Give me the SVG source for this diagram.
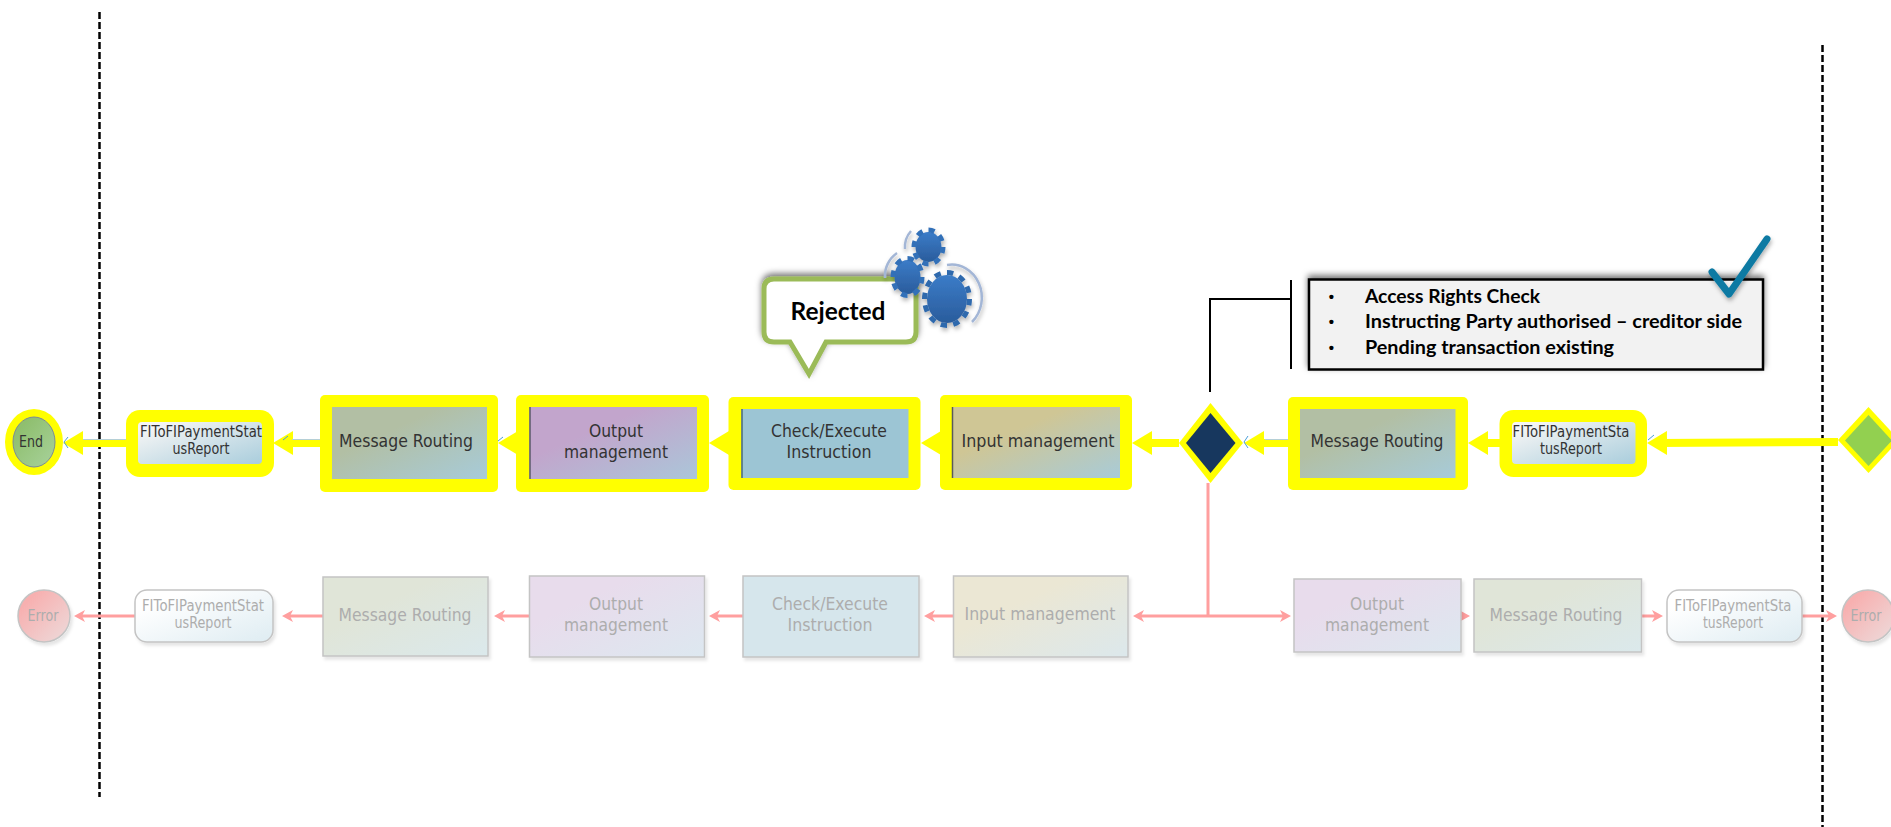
<svg xmlns="http://www.w3.org/2000/svg" width="1891" height="827" viewBox="0 0 1891 827">
<style>
text{font-family:"DejaVu Sans","Liberation Sans",sans-serif;text-anchor:middle;fill:#333;font-size:18px}
.pale{fill:#adadad}
.fi{font-size:15.5px}
.sm{font-size:15px}
.hl{fill:#ffff00}
.pb{stroke:#c4c4c4;stroke-width:1.5;filter:url(#soft)}
.y{stroke:#ffff00;stroke-width:8;fill:none;marker-end:url(#ya)}
.p{stroke:#ff9f9f;stroke-width:3;fill:none}
.pa{marker-end:url(#pa)}
.dash{stroke:#000;stroke-width:2.5;stroke-dasharray:7 3;fill:none}
.tick{stroke:#4a9fd8;stroke-width:1;fill:none}
.under{stroke:#b5cfd6;stroke-width:1;fill:none}
.b{font-family:"Lato","Liberation Sans",sans-serif;font-weight:700;fill:#000;text-anchor:start;font-size:19px}
.bu{font-family:"Liberation Sans",sans-serif;font-weight:700;fill:#000;font-size:15px}
.arc{stroke:#a3b6d6;stroke-width:2.500;fill:none}
</style>
<defs>
<marker id="ya" markerUnits="userSpaceOnUse" markerWidth="20" markerHeight="24" refX="10" refY="12" orient="auto"><path d="M0 0L20 12L0 24Z" fill="#ffff00"/></marker>
<marker id="pa" markerUnits="userSpaceOnUse" markerWidth="12" markerHeight="14" refX="6" refY="7" orient="auto"><path d="M0 1L11 7L0 13L3 7Z" fill="#ff9f9f"/></marker>
<filter id="soft" x="-10%" y="-10%" width="125%" height="125%"><feDropShadow dx="2" dy="3" stdDeviation="1.500" flood-color="#000" flood-opacity=".1"/></filter>
<filter id="up" x="-10%" y="-20%" width="120%" height="140%"><feDropShadow dx="0" dy="-3" stdDeviation="3" flood-color="#000" flood-opacity=".55"/></filter>
<filter id="gs" x="-20%" y="-20%" width="150%" height="150%"><feDropShadow dx="1" dy="3" stdDeviation="2" flood-color="#000" flood-opacity=".3"/></filter>
<linearGradient id="mr" x1="0" y1="0" x2="1" y2="1"><stop offset=".35" stop-color="#b2bfa4"/><stop offset="1" stop-color="#a7cbd9"/></linearGradient>
<linearGradient id="out" x1="0" y1="0" x2="1" y2="1"><stop offset=".35" stop-color="#c2a5cc"/><stop offset="1" stop-color="#abc6d9"/></linearGradient>
<linearGradient id="inp" x1="0" y1="0" x2="1" y2="1"><stop offset=".35" stop-color="#cfc695"/><stop offset="1" stop-color="#a8cbd8"/></linearGradient>
<linearGradient id="fi" x1="0" y1="0" x2="1" y2="1"><stop offset=".1" stop-color="#f5f5f5"/><stop offset="1" stop-color="#a9cddc"/></linearGradient>
<linearGradient id="end" x1="0" y1="0" x2="1" y2="1"><stop offset=".2" stop-color="#8fbf6f"/><stop offset="1" stop-color="#a8d29c"/></linearGradient>
<linearGradient id="pmr" x1="0" y1="0" x2="1" y2="1"><stop offset=".35" stop-color="#e0e5d8"/><stop offset="1" stop-color="#dbe9ec"/></linearGradient>
<linearGradient id="pout" x1="0" y1="0" x2="1" y2="1"><stop offset=".3" stop-color="#e8dcec"/><stop offset="1" stop-color="#dde8f0"/></linearGradient>
<linearGradient id="pinp" x1="0" y1="0" x2="1" y2="1"><stop offset=".35" stop-color="#ebe7d4"/><stop offset="1" stop-color="#dce8ec"/></linearGradient>
<linearGradient id="pfi" x1="0" y1="0" x2="1" y2="1"><stop offset=".2" stop-color="#ffffff"/><stop offset="1" stop-color="#deecf2"/></linearGradient>
<linearGradient id="err" x1="0" y1="0" x2="1" y2="1"><stop offset=".2" stop-color="#f7b0b0"/><stop offset="1" stop-color="#eddcdc"/></linearGradient>
<linearGradient id="gear" x1="0" y1="0" x2="0" y2="1"><stop offset="0" stop-color="#3b7cc8"/><stop offset="1" stop-color="#2a5c9c"/></linearGradient>
</defs>

<g id="swimlanes">
<line class="dash" x1="99.500" y1="12" x2="99.500" y2="797"/>
<line class="dash" x1="1822.500" y1="45" x2="1822.500" y2="827"/>
</g>

<g id="connectors">
<path class="p" d="M1208 483V616"/>
<path class="p pa" d="M1208 616H1138"/>
<path class="p pa" d="M1208 616H1286"/>
<path class="p pa" d="M954 616H929"/>
<path class="p pa" d="M743 616H714"/>
<path class="p pa" d="M529 616H499"/>
<path class="p pa" d="M323 616H287"/>
<path class="p pa" d="M135 616H79"/>
<path class="p pa" d="M1461 616H1465"/>
<path class="p pa" d="M1642 616H1658"/>
<path class="p pa" d="M1802 616H1832"/>
<path d="M1210 392V299H1291M1291 280V369" stroke="#000" stroke-width="2" fill="none"/>
<path class="y" d="M1838 442L1657 443"/>
<path class="y" d="M1500 443H1478"/>
<path class="y" d="M1288 443H1254"/>
<path class="y" d="M1179 443H1142"/>
<path class="y" d="M940 443H931"/>
<path class="y" d="M729 443H719"/>
<path class="y" d="M516 443H508"/>
<path class="y" d="M320 443H283"/>
<path class="y" d="M126 443H73"/>
<path class="under" d="M292 439.500H320M83 439.500H126M1265 439.500H1288"/>
<path class="tick" d="M68 437L64 442L68 448"/>
<path class="tick" d="M288 436L283 440"/>
<path class="tick" d="M503 437L498 441"/>
<path class="tick" d="M1248 436L1244 442L1248 448"/>
<path class="tick" d="M1654 435L1648 440"/>
</g>

<g id="end"><ellipse class="hl" cx="34" cy="442" rx="29" ry="33"/><ellipse cx="34" cy="442" rx="21" ry="25" fill="url(#end)" stroke="#7a8a98" stroke-width="1"/><text class="sm" x="31" y="447" textLength="24" lengthAdjust="spacingAndGlyphs">End</text></g>
<g id="fi-top-left"><rect class="hl" x="126" y="410" width="148" height="67" rx="14"/><rect x="138" y="422" width="124" height="42" rx="4" fill="url(#fi)"/><text class="fi" x="201" y="437" textLength="122" lengthAdjust="spacingAndGlyphs">FIToFIPaymentStat</text><text class="fi" x="201" y="454" textLength="57" lengthAdjust="spacingAndGlyphs">usReport</text></g>
<g id="routing-top-left"><rect class="hl" x="320" y="395" width="178" height="97" rx="5"/><rect x="332" y="407" width="155" height="72" fill="url(#mr)"/><text x="406" y="447" textLength="134" lengthAdjust="spacingAndGlyphs">Message Routing</text></g>
<g id="output-top"><rect class="hl" x="516" y="395" width="193" height="97" rx="5"/><rect x="529.500" y="407" width="167.500" height="72" fill="url(#out)"/><path d="M530 407V479" stroke="#5a5a6a" stroke-width="1.500"/><text x="616" y="437" textLength="54" lengthAdjust="spacingAndGlyphs">Output</text><text x="616" y="458" textLength="104" lengthAdjust="spacingAndGlyphs">management</text></g>
<g id="check-top"><rect class="hl" x="728.500" y="397" width="192" height="93" rx="5"/><rect x="741.500" y="409" width="167" height="69" fill="#9cc5d4"/><path d="M742 409V478" stroke="#4a6a78" stroke-width="1.500"/><text x="829" y="437" textLength="116" lengthAdjust="spacingAndGlyphs">Check/Execute</text><text x="829" y="458" textLength="85" lengthAdjust="spacingAndGlyphs">Instruction</text></g>
<g id="input-top"><rect class="hl" x="940" y="395" width="192" height="95" rx="5"/><rect x="952" y="407" width="168" height="71" fill="url(#inp)"/><path d="M952.500 407V478" stroke="#5a5a5a" stroke-width="1.500"/><text x="1038" y="447" textLength="153" lengthAdjust="spacingAndGlyphs">Input management</text></g>
<g id="gateway-navy"><path class="hl" d="M1210.500 403L1243 443L1210.500 483L1179 443Z"/><path d="M1210.500 413L1235.500 443L1210.500 473L1186 443Z" fill="#17375e"/></g>
<g id="routing-top-right"><rect class="hl" x="1288" y="397" width="180" height="93" rx="5"/><rect x="1300" y="409" width="155.500" height="69" fill="url(#mr)"/><text x="1377" y="447" textLength="133" lengthAdjust="spacingAndGlyphs">Message Routing</text></g>
<g id="fi-top-right"><rect class="hl" x="1499.500" y="410" width="147.500" height="67" rx="14"/><rect x="1512" y="422" width="123.500" height="42" rx="4" fill="url(#fi)"/><text class="fi" x="1571" y="437" textLength="117" lengthAdjust="spacingAndGlyphs">FIToFIPaymentSta</text><text class="fi" x="1571" y="454" textLength="62" lengthAdjust="spacingAndGlyphs">tusReport</text></g>
<g id="gateway-green"><path class="hl" d="M1868.500 407L1899 440L1868.500 473L1838 440Z"/><path d="M1868.500 415L1892 440.500L1868.500 466L1845 440.500Z" fill="#92d050"/></g>

<g id="error-left"><circle cx="44" cy="616" r="26" fill="url(#err)" class="pb"/><text class="pale sm" x="43" y="621" textLength="31" lengthAdjust="spacingAndGlyphs">Error</text></g>
<g id="fi-bottom-left"><rect x="135" y="590" width="138" height="52" rx="12" fill="url(#pfi)" class="pb"/><text class="pale fi" x="203" y="611" textLength="122" lengthAdjust="spacingAndGlyphs">FIToFIPaymentStat</text><text class="pale fi" x="203" y="628" textLength="57" lengthAdjust="spacingAndGlyphs">usReport</text></g>
<g id="routing-bottom-left"><rect x="323" y="577" width="165" height="79" fill="url(#pmr)" class="pb"/><text class="pale" x="405" y="621" textLength="133" lengthAdjust="spacingAndGlyphs">Message Routing</text></g>
<g id="output-bottom-left"><rect x="529.500" y="576" width="175" height="81" fill="url(#pout)" class="pb"/><text class="pale" x="616" y="610" textLength="54" lengthAdjust="spacingAndGlyphs">Output</text><text class="pale" x="616" y="631" textLength="104" lengthAdjust="spacingAndGlyphs">management</text></g>
<g id="check-bottom"><rect x="743" y="576" width="176" height="81" fill="#d6e6ec" class="pb"/><text class="pale" x="830" y="610" textLength="116" lengthAdjust="spacingAndGlyphs">Check/Execute</text><text class="pale" x="830" y="631" textLength="85" lengthAdjust="spacingAndGlyphs">Instruction</text></g>
<g id="input-bottom"><rect x="953.500" y="576" width="174.500" height="81" fill="url(#pinp)" class="pb"/><text class="pale" x="1040" y="620" textLength="151" lengthAdjust="spacingAndGlyphs">Input management</text></g>
<g id="output-bottom-right"><rect x="1294" y="579" width="167" height="73" fill="url(#pout)" class="pb"/><text class="pale" x="1377" y="610" textLength="54" lengthAdjust="spacingAndGlyphs">Output</text><text class="pale" x="1377" y="631" textLength="104" lengthAdjust="spacingAndGlyphs">management</text></g>
<g id="routing-bottom-right"><rect x="1474" y="579" width="167.500" height="73" fill="url(#pmr)" class="pb"/><text class="pale" x="1556" y="621" textLength="133" lengthAdjust="spacingAndGlyphs">Message Routing</text></g>
<g id="fi-bottom-right"><rect x="1667" y="590" width="135" height="52" rx="12" fill="url(#pfi)" class="pb"/><text class="pale fi" x="1733" y="611" textLength="117" lengthAdjust="spacingAndGlyphs">FIToFIPaymentSta</text><text class="pale fi" x="1733" y="628" textLength="60" lengthAdjust="spacingAndGlyphs">tusReport</text></g>
<g id="error-right"><circle cx="1868" cy="616" r="26" fill="url(#err)" class="pb"/><text class="pale sm" x="1866" y="621" textLength="31" lengthAdjust="spacingAndGlyphs">Error</text></g>

<g id="rejected-callout">
<path d="M774 279H906Q916 279 916 289V332Q916 342 906 342H826L809 374L790 342H774Q764 342 764 332V289Q764 279 774 279Z" fill="#fff" stroke="#9bbb59" stroke-width="5" filter="url(#up)"/>
<text x="838" y="320" textLength="95" lengthAdjust="spacingAndGlyphs" style="font-family:Lato,'Liberation Sans',sans-serif;font-weight:700;font-size:25px;fill:#000">Rejected</text>
</g>

<g id="gears" filter="url(#gs)">
<path class="arc" d="M947 265A30 33 0 0 1 972 322"/>
<path class="arc" d="M897 253A28 28 0 0 0 885 278"/>
<path class="arc" d="M911 231A24 24 0 0 0 905 249"/>
<ellipse cx="947" cy="299" rx="20" ry="24" fill="url(#gear)"/>
<ellipse cx="947" cy="299" rx="22.500" ry="26.500" fill="none" stroke="#2f69ad" stroke-width="5" pathLength="24" stroke-dasharray="1 1"/>
<ellipse cx="928.500" cy="247" rx="13" ry="15" fill="url(#gear)"/>
<ellipse cx="928.500" cy="247" rx="14.500" ry="17" fill="none" stroke="#3270b8" stroke-width="5" pathLength="16" stroke-dasharray="1 1"/>
<ellipse cx="907.500" cy="277" rx="13" ry="17" fill="url(#gear)"/>
<ellipse cx="907.500" cy="277" rx="14.500" ry="18.500" fill="none" stroke="#3270b8" stroke-width="5" pathLength="16" stroke-dasharray="1 1"/>
</g>

<g id="checks-note">
<rect x="1309" y="279.500" width="454" height="90" fill="#f2f2f2" stroke="#000" stroke-width="2.500" filter="url(#up)"/>
<text class="bu" x="1331.500" y="302">•</text><text class="b" x="1365" y="303" textLength="175" lengthAdjust="spacingAndGlyphs">Access Rights Check</text>
<text class="bu" x="1331.500" y="327">•</text><text class="b" x="1365" y="328" textLength="377" lengthAdjust="spacingAndGlyphs">Instructing Party authorised – creditor side</text>
<text class="bu" x="1331.500" y="353">•</text><text class="b" x="1365" y="354" textLength="249" lengthAdjust="spacingAndGlyphs">Pending transaction existing</text>
<path d="M1712 272L1729 294L1767 239" fill="none" stroke="#0e7aa3" stroke-width="7" stroke-linecap="round" stroke-linejoin="round" filter="url(#gs)"/>
</g>
</svg>
